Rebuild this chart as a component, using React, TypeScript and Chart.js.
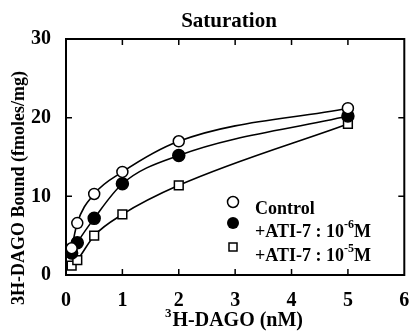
import React, { useEffect, useRef } from "react";
import { Chart, registerables } from "chart.js";

Chart.register(...registerables);

const concentrations = [0.1, 0.2, 0.5, 1, 2, 5];
const controlValues = [3.4, 6.6, 10.3, 13.1, 17.0, 21.2];
const ati6Values = [2.8, 4.1, 7.2, 11.6, 15.2, 20.2];
const ati5Values = [1.2, 1.9, 5.0, 7.7, 11.4, 19.2];
const xTicks = [0, 1, 2, 3, 4, 5, 6];
const yTicks = [0, 10, 20, 30];
const seriesNames = ["Control", "+ATI-7 : 10", "+ATI-7 : 10"];
const seriesSup = ["", "-6", "-5"];
const seriesSupTail = ["", "M", "M"];

const SERIF = '"Liberation Serif", "DejaVu Serif", serif';

const decorPlugin = {
  id: "decor",
  afterDatasetsDraw(chart: any) {
    const { ctx, chartArea, scales } = chart;
    const xs = scales.x;
    const ys = scales.y;
    const { left, right, top, bottom } = chartArea;
    ctx.save();
    ctx.strokeStyle = "#000";
    ctx.fillStyle = "#000";
    // frame
    ctx.lineWidth = 2;
    ctx.strokeRect(left, top, right - left, bottom - top);
    // inward ticks
    ctx.lineWidth = 1.5;
    const tl = 6;
    xTicks.forEach((v) => {
      if (v === xTicks[0] || v === xTicks[xTicks.length - 1]) return;
      const px = xs.getPixelForValue(v);
      ctx.beginPath();
      ctx.moveTo(px, bottom);
      ctx.lineTo(px, bottom - tl);
      ctx.moveTo(px, top);
      ctx.lineTo(px, top + tl);
      ctx.stroke();
    });
    yTicks.forEach((v) => {
      if (v === yTicks[0] || v === yTicks[yTicks.length - 1]) return;
      const py = ys.getPixelForValue(v);
      ctx.beginPath();
      ctx.moveTo(left, py);
      ctx.lineTo(left + tl, py);
      ctx.moveTo(right, py);
      ctx.lineTo(right - tl, py);
      ctx.stroke();
    });
    // title
    ctx.textBaseline = "middle";
    ctx.textAlign = "center";
    ctx.font = "bold 21px " + SERIF;
    ctx.fillText("Saturation", 229, 22);
    // x title with superscript
    const big = "bold 20px " + SERIF;
    const small = "bold 13px " + SERIF;
    ctx.textAlign = "left";
    ctx.font = big;
    const main = "H-DAGO (nM)";
    const wMain = ctx.measureText(main).width;
    ctx.font = small;
    const wSup = ctx.measureText("3").width + 1;
    const cx = 234;
    const startX = cx - (wMain + wSup) / 2;
    ctx.fillText("3", startX, 314);
    ctx.font = big;
    ctx.fillText(main, startX + wSup, 321);
    // y title
    ctx.save();
    ctx.translate(19, 188);
    ctx.rotate(-Math.PI / 2);
    ctx.textAlign = "center";
    ctx.font = "bold 18px " + SERIF;
    ctx.fillText("3H-DAGO Bound (fmoles/mg)", 0, 0);
    ctx.restore();
    // legend
    const mx = 233;
    const my = [202, 223, 247];
    const ty = [209, 232, 256];
    ctx.lineWidth = 1.5;
    ctx.beginPath();
    ctx.arc(mx, my[0], 5.5, 0, Math.PI * 2);
    ctx.fillStyle = "#fff";
    ctx.fill();
    ctx.stroke();
    ctx.beginPath();
    ctx.arc(mx, my[1], 6, 0, Math.PI * 2);
    ctx.fillStyle = "#000";
    ctx.fill();
    ctx.fillStyle = "#fff";
    ctx.fillRect(mx - 4, my[2] - 4, 8, 8);
    ctx.strokeRect(mx - 4, my[2] - 4, 8, 8);
    ctx.fillStyle = "#000";
    const lf = "bold 18px " + SERIF;
    const lsf = "bold 12px " + SERIF;
    seriesNames.forEach((name, i) => {
      let x = 255;
      ctx.font = lf;
      ctx.fillText(name, x, ty[i]);
      x += ctx.measureText(name).width;
      if (seriesSup[i]) {
        ctx.font = lsf;
        ctx.fillText(seriesSup[i], x, ty[i] - 7);
        x += ctx.measureText(seriesSup[i]).width;
        ctx.font = lf;
        ctx.fillText(seriesSupTail[i], x, ty[i]);
      }
    });
    ctx.restore();
  },
};

export default function App() {
  const ref = useRef<HTMLCanvasElement | null>(null);
  useEffect(() => {
    if (!ref.current) return;
    const mk = (vals: number[]) => concentrations.map((x, i) => ({ x, y: vals[i] }));
    const common = {
      showLine: true,
      borderColor: "#000",
      borderWidth: 1.6,
      cubicInterpolationMode: "monotone" as const,
      pointBorderColor: "#000",
      pointBorderWidth: 1.5,
      clip: false as any,
    };
    const chart = new Chart(ref.current, {
      type: "scatter",
      data: {
        datasets: [
          {
            ...common,
            label: "Control",
            data: mk(controlValues),
            pointStyle: "circle",
            pointRadius: 5.5,
            pointBackgroundColor: "#fff",
          },
          {
            ...common,
            label: "+ATI-7 : 10^-6M",
            data: mk(ati6Values),
            pointStyle: "circle",
            pointRadius: 6,
            pointBackgroundColor: "#000",
          },
          {
            ...common,
            label: "+ATI-7 : 10^-5M",
            data: mk(ati5Values),
            pointStyle: "rect",
            pointRadius: 6.2,
            pointBackgroundColor: "#fff",
          },
        ],
      },
      options: {
        animation: false,
        responsive: false,
        devicePixelRatio: 1,
        layout: { padding: { left: 0, top: 39, right: 7, bottom: 0 } },
        plugins: {
          legend: { display: false },
          title: { display: false },
          tooltip: { enabled: false },
        },
        scales: {
          x: {
            type: "linear",
            min: 0,
            max: 6,
            afterFit: (s: any) => {
              s.height = 61;
              s.paddingLeft = 0;
              s.paddingRight = 0;
            },
            afterBuildTicks: (s: any) => {
              s.ticks = xTicks.map((v) => ({ value: v }));
            },
            grid: { display: false, drawTicks: false },
            border: { display: false },
            ticks: {
              color: "#000",
              padding: 14,
              maxRotation: 0,
              autoSkip: false,
              font: { family: SERIF, size: 20, weight: "bold" },
            },
          },
          y: {
            type: "linear",
            min: 0,
            max: 30,
            afterFit: (s: any) => {
              s.width = 66;
              s.paddingTop = 0;
              s.paddingBottom = 0;
            },
            afterBuildTicks: (s: any) => {
              s.ticks = yTicks.map((v) => ({ value: v }));
            },
            grid: { display: false, drawTicks: false },
            border: { display: false },
            ticks: {
              color: "#000",
              padding: 15,
              autoSkip: false,
              font: { family: SERIF, size: 20, weight: "bold" },
            },
          },
        },
      },
      plugins: [decorPlugin],
    });
    return () => chart.destroy();
  }, []);
  return (
    <div style={{ position: "fixed", left: 0, top: 0, width: 412, height: 336, background: "#fff" }}>
      <canvas ref={ref} width={412} height={336} style={{ width: 412, height: 336, display: "block" }} />
    </div>
  );
}
